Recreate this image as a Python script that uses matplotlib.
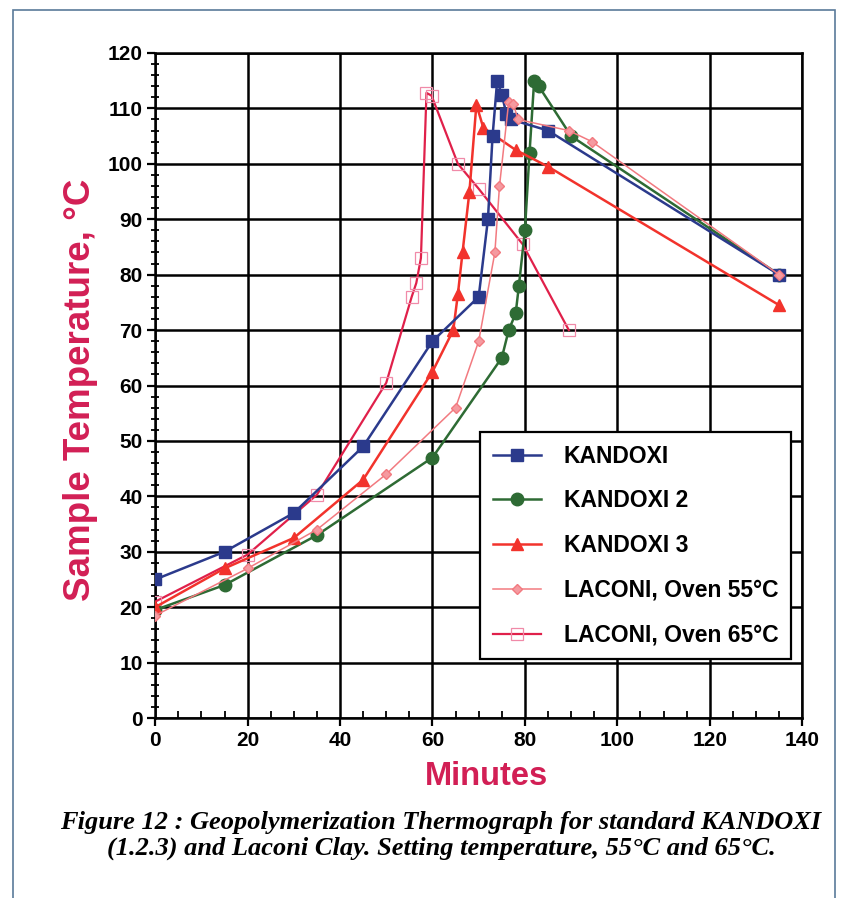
import matplotlib
matplotlib.use("Agg")
import matplotlib.pyplot as plt
from matplotlib.ticker import MultipleLocator
from matplotlib.patches import Rectangle

# minutes / sample temperature (deg C)
kandoxi_x = [0, 15, 30, 45, 60, 70, 72, 73, 74, 75, 76, 77, 85, 135]
kandoxi_y = [25, 30, 37, 49, 68, 76, 90, 105, 115, 112.5, 109, 108, 106, 80]

kandoxi2_x = [0, 15, 35, 60, 75, 76.5, 78, 78.7, 80, 81, 82, 83, 90, 135]
kandoxi2_y = [19.5, 24, 33, 47, 65, 70, 73, 78, 88, 102, 115, 114, 105, 80]

kandoxi3_x = [0, 15, 30, 45, 60, 64.5, 65.5, 66.5, 68, 69.5, 71, 78, 85, 135]
kandoxi3_y = [20, 27, 32.5, 43, 62.5, 70, 76.5, 84, 95, 110.7, 106.5, 102.5, 99.5, 74.5]

laconi55_x = [0, 20, 35, 50, 65, 70, 73.5, 74.5, 76.5, 77.5, 78.5, 89.5, 94.5, 135]
laconi55_y = [18.5, 27, 34, 44, 56, 68, 84, 96, 111.2, 110.8, 108, 106, 104, 80]

laconi65_x = [0, 20, 35, 50, 55.5, 56.5, 57.5, 58.7, 59.8, 65.5, 70, 79.5, 89.5]
laconi65_y = [21, 29.5, 40.3, 60.5, 76, 78.5, 83, 112.8, 112.3, 100, 95.5, 85.5, 70]

labels = ['KANDOXI', 'KANDOXI 2', 'KANDOXI 3', 'LACONI, Oven 55°C', 'LACONI, Oven 65°C']
caption = ('Figure 12 : Geopolymerization Thermograph for standard KANDOXI\n'
           '(1.2.3) and Laconi Clay. Setting temperature, 55°C and 65°C.')

plt.rcParams['font.family'] = ['Liberation Sans', 'DejaVu Sans']

fig = plt.figure(figsize=(8.48, 8.98), dpi=100)
ax = fig.add_axes([0.183, 0.2004, 0.763, 0.7406])

ax.plot(kandoxi_x, kandoxi_y, color='#2b3a8c', lw=1.8, marker='s', ms=9,
        mfc='#2b3a8c', mec='#2b3a8c', label=labels[0], zorder=5)
ax.plot(kandoxi2_x, kandoxi2_y, color='#2e6b34', lw=1.8, marker='o', ms=9,
        mfc='#2e6b34', mec='#2e6b34', label=labels[1], zorder=4)
ax.plot(kandoxi3_x, kandoxi3_y, color='#f2332c', lw=1.8, marker='^', ms=9,
        mfc='#f2332c', mec='#f2332c', label=labels[2], zorder=4)
ax.plot(laconi55_x, laconi55_y, color='#f27a80', lw=1.1, marker='D', ms=5.5,
        mfc='#f59aa0', mec='#f27a80', label=labels[3], zorder=6)
ax.plot(laconi65_x, laconi65_y, color='#e0204a', lw=1.6, marker='s', ms=9,
        mfc='none', mec='#f08aa8', mew=0.9, label=labels[4], zorder=3)

ax.set_xlim(0, 140)
ax.set_ylim(0, 120)
ax.xaxis.set_major_locator(MultipleLocator(20))
ax.xaxis.set_minor_locator(MultipleLocator(5))
ax.yaxis.set_major_locator(MultipleLocator(10))
ax.yaxis.set_minor_locator(MultipleLocator(2))
ax.tick_params(which='major', direction='out', length=6, width=1.6,
               labelsize=15, pad=3)
ax.tick_params(axis='x', which='minor', direction='in', length=5, width=1.3)
ax.tick_params(axis='y', which='minor', direction='inout', length=6, width=1.3)
for lab in ax.get_xticklabels() + ax.get_yticklabels():
    lab.set_fontweight('bold')

ax.grid(True, which='major', color='black', lw=1.8)
for s in ax.spines.values():
    s.set_linewidth(1.8)

ax.set_xlabel('Minutes', fontsize=23.5, color='#d21f55', weight='bold', va='center')
ax.xaxis.set_label_coords(0.512, -0.088)
ax.set_ylabel('Sample Temperature, °C', fontsize=26.5, color='#d21f55',
              weight='bold', va='center')
ax.yaxis.set_label_coords(-0.115, 0.493)

leg = ax.legend(loc='upper left', bbox_to_anchor=(0.502, 0.43), borderaxespad=0,
                fancybox=False, framealpha=1, edgecolor='black',
                prop={'size': 16.5, 'weight': 'bold'},
                handlelength=2.1, labelspacing=0.95, borderpad=0.55,
                handletextpad=1.0)
leg.get_frame().set_linewidth(1.6)

fig.text(0.52, 0.0696, caption, ha='center', va='center', fontsize=19,
         family='Liberation Serif', style='italic', weight='bold',
         linespacing=1.17)

fig.patches.append(Rectangle((0.015, -0.01), 0.97, 0.999, transform=fig.transFigure,
                             fill=False, edgecolor='#5a7a9a', lw=1.2))

fig.savefig('out.png', dpi=100)
